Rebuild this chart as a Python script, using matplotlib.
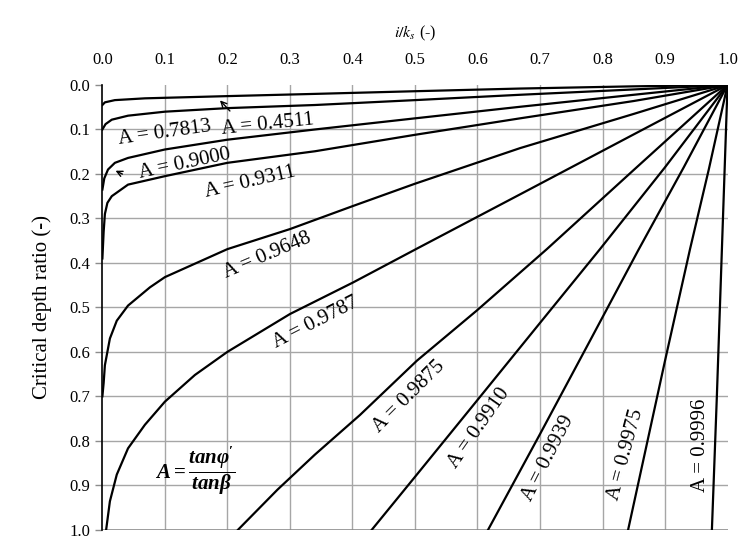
import numpy as np
import matplotlib
matplotlib.use("Agg")
import matplotlib.pyplot as plt

#%% fonts
plt.rcParams['font.family'] = ['Liberation Serif', 'DejaVu Serif']
plt.rcParams['mathtext.fontset'] = 'custom'
plt.rcParams['mathtext.rm'] = 'Liberation Serif:bold'
plt.rcParams['mathtext.it'] = 'Liberation Serif:bold:italic'
plt.rcParams['mathtext.bf'] = 'Liberation Serif:bold'

#%% data (x = i/k_s, y = critical depth ratio)
a_values = ["0.4511", "0.7813", "0.9000", "0.9311", "0.9648", "0.9787",
            "0.9875", "0.9910", "0.9939", "0.9975", "0.9996"]

x_4511 = [0, 0.004, 0.02, 0.068, 0.2, 0.34, 0.5, 0.668, 0.85, 1.0]
y_4511 = [0.045, 0.039, 0.034, 0.030, 0.025, 0.020, 0.014, 0.008, 0.003, 0.0]

x_7813 = [0, 0.005, 0.015, 0.041, 0.1, 0.2, 0.34, 0.5, 0.668, 0.85, 1.0]
y_7813 = [0.100, 0.088, 0.078, 0.069, 0.060, 0.052, 0.045, 0.034, 0.022, 0.010, 0.0]

x_9000 = [0, 0.003, 0.009, 0.02, 0.041, 0.1, 0.2, 0.34, 0.5, 0.668, 0.85, 1.0]
y_9000 = [0.235, 0.21, 0.19, 0.175, 0.164, 0.145, 0.123, 0.10, 0.075, 0.049, 0.022, 0.0]

x_9311 = [0, 0.002, 0.004, 0.008, 0.015, 0.041, 0.1, 0.2, 0.34, 0.5, 0.668, 0.85, 1.0]
y_9311 = [0.39, 0.33, 0.29, 0.265, 0.25, 0.224, 0.205, 0.175, 0.149, 0.112, 0.075, 0.036, 0.0]

x_9648 = [0, 0.002, 0.004, 0.012, 0.023, 0.041, 0.076, 0.1, 0.2, 0.3, 0.401, 0.5, 0.668, 0.85, 1.0]
y_9648 = [0.70, 0.67, 0.63, 0.57, 0.53, 0.496, 0.455, 0.432, 0.369, 0.324, 0.272, 0.222, 0.142, 0.065, 0.0]

x_9787 = [0.006, 0.012, 0.023, 0.041, 0.068, 0.1, 0.148, 0.2, 0.3, 0.401, 0.503, 0.668, 0.85, 1.0]
y_9787 = [1.0, 0.936, 0.876, 0.817, 0.764, 0.712, 0.652, 0.60, 0.515, 0.444, 0.368, 0.246, 0.111, 0.0]

x_9875 = [0.217, 0.28, 0.34, 0.412, 0.503, 0.599, 0.711, 0.85, 1.0]
y_9875 = [1.0, 0.91, 0.831, 0.742, 0.62, 0.507, 0.369, 0.191, 0.0]

x_9910 = [0.431, 0.503, 0.599, 0.7, 0.796, 0.9, 1.0]
y_9910 = [1.0, 0.876, 0.71, 0.535, 0.369, 0.185, 0.0]

x_9939 = [0.617, 0.70, 0.78, 0.857, 0.93, 1.0]
y_9939 = [1.0, 0.785, 0.575, 0.372, 0.185, 0.0]

x_9975 = [0.841, 0.9, 0.94, 0.97, 1.0]
y_9975 = [1.0, 0.62, 0.369, 0.19, 0.0]

x_9996 = [0.975, 0.983, 0.991, 1.0]
y_9996 = [1.0, 0.697, 0.369, 0.0]

curves_x = [x_4511, x_7813, x_9000, x_9311, x_9648, x_9787, x_9875, x_9910, x_9939, x_9975, x_9996]
curves_y = [y_4511, y_7813, y_9000, y_9311, y_9648, y_9787, y_9875, y_9910, y_9939, y_9975, y_9996]

# label anchor (x, y) and screen rotation for each A value
label_x = [0.265, 0.10, 0.132, 0.236, 0.263, 0.341, 0.49, 0.602, 0.713, 0.838, 0.956]
label_y = [0.089, 0.108, 0.178, 0.218, 0.383, 0.535, 0.70, 0.772, 0.839, 0.832, 0.81]
label_rot = [6, 8, 12, 13, 23, 27, 45, 55, 63, 75, 90]

ticks = [0.0, 0.1, 0.2, 0.3, 0.4, 0.5, 0.6, 0.7, 0.8, 0.9, 1.0]

#%% plot
fig = plt.figure(figsize=(7.42, 5.4), dpi=100)
ax = fig.add_axes([0.138, 0.019, 0.8425, 0.8236])

# grid
for t in ticks[1:-1]:
    ax.axvline(t, color="#a6a6a6", lw=1.0, zorder=1)
    ax.axhline(t, color="#a6a6a6", lw=1.0, zorder=1)
ax.axhline(1.0, color="#8c8c8c", lw=1.2, zorder=1)

for cx, cy in zip(curves_x, curves_y):
    ax.plot(cx, cy, color="black", lw=1.6, zorder=3, solid_joinstyle="round")

for i, a in enumerate(a_values):
    ax.text(label_x[i], label_y[i], "A = " + a, rotation=label_rot[i],
            rotation_mode="anchor", ha="center", va="center", fontsize=15, zorder=4)

# arrows to the two crowded curves
ax.annotate("", xy=(0.185, 0.030), xytext=(0.207, 0.063),
            arrowprops=dict(arrowstyle="->", color="black", lw=1.0))
ax.annotate("", xy=(0.017, 0.19), xytext=(0.036, 0.203),
            arrowprops=dict(arrowstyle="->", color="black", lw=1.0))

ax.text(0.148, 0.868, r"$A = \dfrac{tan\varphi\,\!^{\prime}}{tan\beta}$", fontsize=15,
        ha="center", va="center", zorder=4)

ax.set_xlim(0, 1)
ax.set_ylim(1, 0)
ax.set_xticks(ticks)
ax.set_yticks(ticks)
ax.set_xticklabels([f"{t:.1f}" for t in ticks])
ax.set_yticklabels([f"{t:.1f}" for t in ticks])
ax.xaxis.tick_top()
ax.xaxis.set_label_position("top")
ax.tick_params(axis="x", length=0, pad=12, labelsize=12)
ax.tick_params(axis="y", length=5, width=1, color="#8c8c8c", pad=4, labelsize=12)

ax.set_xlabel(r"$i/k_s$ (-)", fontsize=11.5, labelpad=11, math_fontfamily="stix")
ax.set_ylabel("Critical depth ratio (-)", fontsize=15, labelpad=12)

ax.spines["top"].set_visible(False)
ax.spines["right"].set_visible(False)
ax.spines["bottom"].set_visible(False)
ax.spines["left"].set_color("black")
ax.spines["left"].set_linewidth(1.2)

fig.savefig("out.png", dpi=100)
